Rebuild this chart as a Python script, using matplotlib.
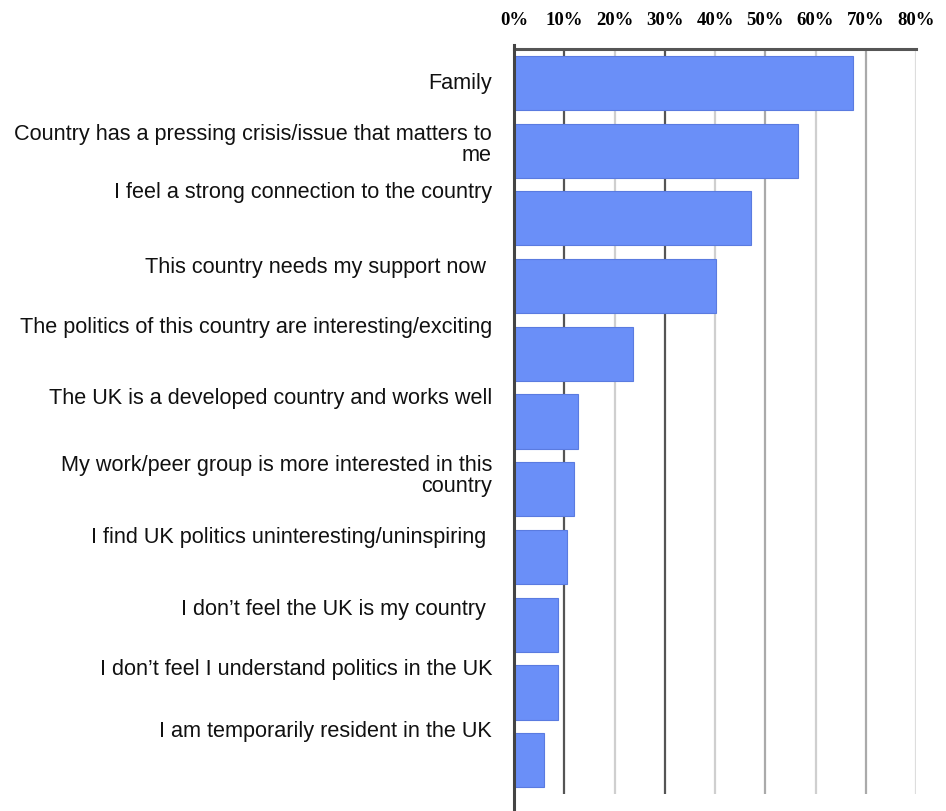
import matplotlib
matplotlib.use("Agg")
import matplotlib.pyplot as plt
import matplotlib.transforms as mtransforms
from matplotlib.lines import Line2D

categories = [
    "Family",
    "Country has a pressing crisis/issue that matters to\nme",
    "I feel a strong connection to the country",
    "This country needs my support now ",
    "The politics of this country are interesting/exciting",
    "The UK is a developed country and works well",
    "My work/peer group is more interested in this\ncountry",
    "I find UK politics uninteresting/uninspiring ",
    "I don\u2019t feel the UK is my country ",
    "I don\u2019t feel I understand politics in the UK",
    "I am temporarily resident in the UK",
]
values = [67.5, 56.5, 47.2, 40.1, 23.6, 12.7, 11.9, 10.5, 8.7, 8.7, 6.0]
tick_values = [0, 10, 20, 30, 40, 50, 60, 70, 80]
tick_labels = ["0%", "10%", "20%", "30%", "40%", "50%", "60%", "70%", "80%"]

# layout: vertical shift of each label relative to its bar centre (bar units)
label_shift = [0.0, -0.1, -0.40, -0.29, -0.40, -0.35, -0.21, -0.30, -0.24, -0.35, -0.44]
grid_colors = ["#555555", "#555555", "#cfcfcf", "#555555", "#cfcfcf",
               "#aaaaaa", "#cfcfcf", "#aaaaaa", "#dddddd"]

fig = plt.figure(figsize=(9.46, 8.12), dpi=100)
ax = fig.add_axes([514 / 946, 17 / 812, 402 / 946, 745 / 812])

n = len(categories)
ypos = list(range(n))

for x, c in zip(tick_values, grid_colors):
    if x == 0:
        continue
    ax.axvline(x, color=c, lw=1.6, zorder=0)

ax.barh(ypos, values, height=0.8, color="#6a8ff8", edgecolor="#5a7be0",
        linewidth=0.8, zorder=2)

ax.set_xlim(0, 80)
ax.set_ylim(n - 0.5, -0.5)
ax.xaxis.tick_top()
ax.set_xticks(tick_values)
ax.set_xticklabels(tick_labels, fontfamily="Liberation Serif",
                   fontweight="bold", fontsize=13.5)
ax.tick_params(axis="x", length=0, pad=15)
ax.set_yticks([])

for s in ["bottom", "right", "left"]:
    ax.spines[s].set_visible(False)
ax.spines["top"].set_color("#555555")
ax.spines["top"].set_linewidth(2.2)

# left axis line extending beyond the plot area
ax.add_line(Line2D([0, 0], [1.005, -0.03], transform=ax.transAxes,
                   color="#444444", lw=2.2, clip_on=False, zorder=5))

trans = mtransforms.blended_transform_factory(fig.transFigure, ax.transData)
for i, (lab, dy) in enumerate(zip(categories, label_shift)):
    fig.text(492 / 946, i + dy, lab, transform=trans, ha="right", va="center",
             multialignment="right", fontfamily="Liberation Sans",
             fontsize=15.6, color="#111111", linespacing=1.0)

fig.savefig("out.png", dpi=100)
